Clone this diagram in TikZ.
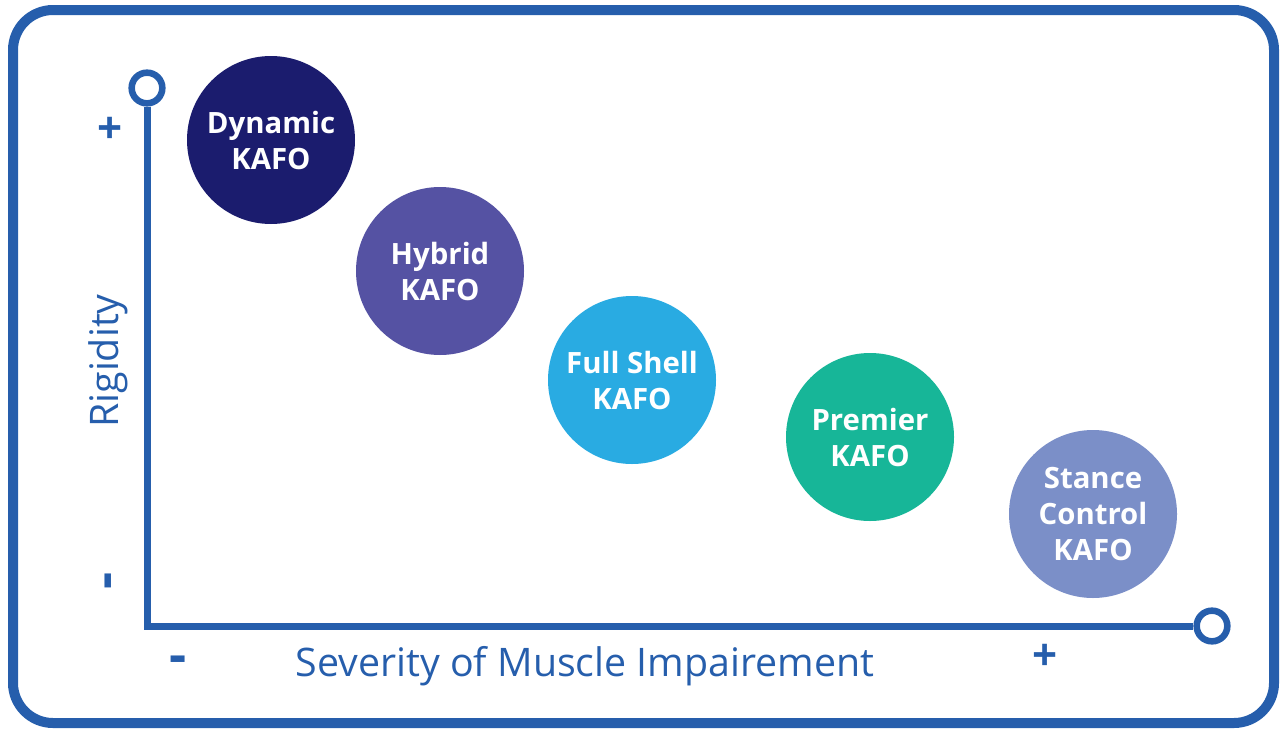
\documentclass[tikz,border=0pt]{standalone}
\usepackage{fontspec}
\setmainfont{Open Sans}
\usepackage{tikz}
\usetikzlibrary{positioning}
\definecolor{axisblue}{HTML}{265EAC}
\definecolor{cdyn}{HTML}{1B1C6E}
\definecolor{chyb}{HTML}{5552A3}
\definecolor{cful}{HTML}{29ABE2}
\definecolor{cpre}{HTML}{17B698}
\definecolor{csta}{HTML}{7B8FC8}
\tikzset{
  frame/.style={draw=axisblue, line width=7.5pt, rounded corners=30pt},
  axisline/.style={draw=axisblue, line width=5.25pt},
  endcap/.style={draw=axisblue, circle, fill=white, line width=4.9pt, minimum size=23pt, inner sep=0pt},
  kafo/.style={circle, minimum size=126pt, inner sep=0pt, align=center, text=white, font=\bfseries\fontsize{22}{27}\selectfont},
  sign/.style={text=axisblue, font=\bfseries\fontsize{33}{33}\selectfont, inner sep=0pt},
  minussign/.style={text=axisblue, font=\bfseries\fontsize{40}{40}\selectfont, inner sep=0pt},
  axlabel/.style={text=axisblue, font=\fontsize{29.5}{34}\selectfont, inner sep=0pt},
}
\begin{document}
\begin{tikzpicture}[x=0.75pt,y=-0.75pt]
\useasboundingbox (0,0) rectangle (1280,728);
\draw[frame] (13,10) rectangle (1274,723);
% axes
\node[endcap] (ytop) at (147,88) {};
\node[endcap] (xend) at (1212,626) {};
\coordinate (origin) at (147,626);
\draw[axisline] (ytop) -- (origin) -- (xend);
\node[sign] (yplus) at (110,130) {+};
\node[minussign, rotate=90] (yminus) at (114,581) {-};
\node[minussign] (xminus) at (178,665) {-};
\node[sign] (xplus) at (1045,657) {+};
\node[axlabel, rotate=90] (ylab) at (108,361) {Rigidity};
\node[axlabel] (xlab) at (585,666) {Severity of Muscle Impairement};
% orthoses
\node[kafo, fill=cdyn] (dyn) at (271,140) {Dynamic\\KAFO};
\node[kafo, fill=chyb] (hyb) at (440,271) {Hybrid\\KAFO};
\node[kafo, fill=cful] (ful) at (632,380) {Full Shell\\KAFO};
\node[kafo, fill=cpre] (pre) at (870,437) {Premier\\KAFO};
\node[kafo, fill=csta] (sta) at (1093,514) {Stance\\Control\\KAFO};
\end{tikzpicture}
\end{document}
